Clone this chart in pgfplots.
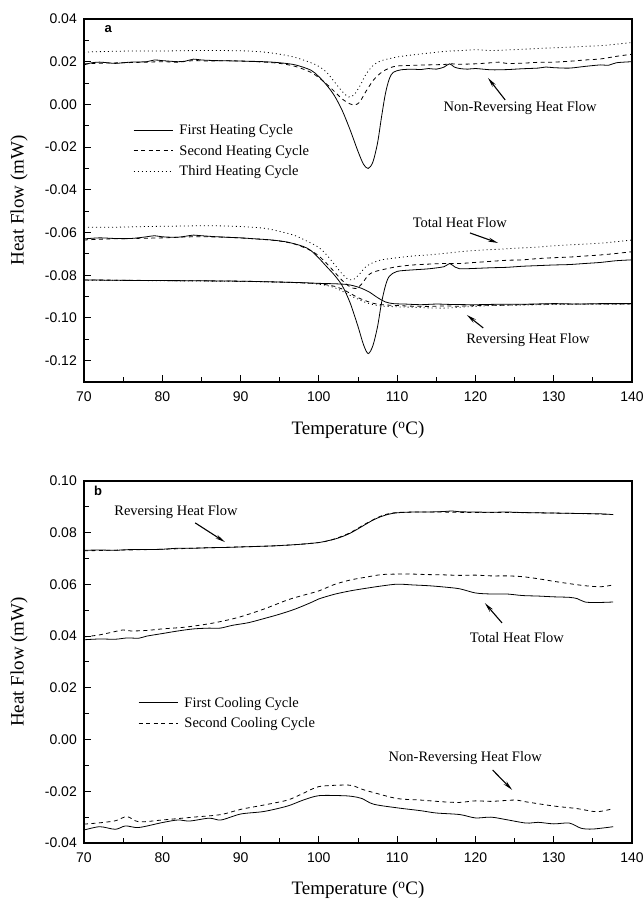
\documentclass[border=0pt]{standalone}
\usepackage{fontspec}
\setmainfont{Liberation Serif}
\newfontfamily\sansf{Liberation Sans}
\usepackage{pgfplots}
\pgfplotsset{compat=1.18}
\usetikzlibrary{arrows.meta}

\newcommand{\annot}{\fontsize{14.5}{16}\selectfont}
\newcommand{\labfont}{\fontsize{19}{21}\selectfont}

\pgfplotsset{
  dsc/.style={
    scale only axis, width=548pt,
    xmin=70, xmax=140,
    xtick={70,80,90,100,110,120,130,140},
    minor x tick num=1, minor y tick num=1,
    tick align=inside, xtick pos=bottom, ytick pos=left,
    major tick length=7pt, minor tick length=4.5pt,
    every tick/.style={black, line width=1pt},
    axis line style={line width=1.1pt},
    /pgf/number format/assume math mode=true,
    ticklabel style={font=\sansf\fontsize{14}{14}\selectfont, inner sep=0pt},
    xticklabel style={anchor=north, yshift=-10pt},
    yticklabel style={anchor=east, xshift=-7pt, /pgf/number format/.cd, fixed, fixed zerofill, precision=2},
    scaled y ticks=false,
    xlabel={Temperature ($^{\mathrm{o}}$C)},
    ylabel={Heat Flow (mW)},
    every axis y label/.style={at={(axis description cs:-0.1186,0.5)}, rotate=90, anchor=center, font=\labfont},
    legend image code/.code={\draw[#1] (0pt,0pt) -- (39pt,0pt); \path (44pt,0pt);},
    legend cell align=left,
    legend style={draw=none, fill=none, font=\annot, row sep=6pt, inner sep=0pt, nodes={inner sep=1.5pt, anchor=west}},
    every axis plot/.append style={line width=0.8pt, black, smooth},
  },
  s1/.style={solid},
  s2/.style={dash pattern=on 4pt off 3.5pt},
  s3/.style={dash pattern=on 1pt off 3pt},
}
\tikzset{arr/.style={-{Stealth[length=10pt,width=4pt]}, line width=1.1pt}}

\begin{document}
\begin{tikzpicture}
\path[use as bounding box] (0pt,0pt) rectangle (644pt,901pt);

% ---------------- Panel a ----------------
\begin{axis}[dsc, at={(84pt,519pt)}, anchor=south west, height=363pt,
  ymin=-0.13, ymax=0.04,
  ytick={-0.12,-0.10,-0.08,-0.06,-0.04,-0.02,0.00,0.02,0.04},
  every axis x label/.style={at={(axis description cs:0.5,-0.1322)}, anchor=center, font=\labfont},
  legend style={at={(0.0894,0.714)}, anchor=north west}]
% Non-reversing
\addplot[s1] coordinates {(70,0.0185)(71,0.0195)(72,0.0198)(73,0.0195)(74,0.0192)(75,0.0195)(76,0.0198)(78,0.0200)(79,0.0208)(80,0.0205)(82,0.0200)(83,0.0203)(84,0.0212)(85,0.0208)(87,0.0205)(90,0.0203)(93,0.0200)(95,0.0195)(97,0.0185)(99,0.0160)(100,0.0130)(101,0.0090)(102,0.0040)(103,-0.0030)(104,-0.0120)(105,-0.0220)(105.7,-0.0280)(106.3,-0.0300)(106.9,-0.0270)(107.5,-0.0180)(108,-0.0060)(108.5,0.0050)(109,0.0120)(109.5,0.0150)(110.5,0.0162)(112,0.0165)(113,0.0163)(114,0.0168)(115,0.0165)(116,0.0175)(116.7,0.0190)(117.3,0.0175)(118,0.0168)(119,0.0165)(120,0.0168)(122,0.0162)(124,0.0163)(126,0.0167)(128,0.0170)(129,0.0175)(130,0.0172)(132,0.0170)(134,0.0178)(136,0.0185)(137,0.0183)(138,0.0195)(140,0.0200)};
\addlegendentry{First Heating Cycle}
\addplot[s2] coordinates {(70,0.0190)(72,0.0193)(75,0.0195)(78,0.0198)(80,0.0200)(82,0.0198)(84,0.0205)(86,0.0203)(88,0.0205)(90,0.0203)(93,0.0198)(95,0.0192)(97,0.0178)(99,0.0150)(100,0.0125)(101,0.0095)(102,0.0060)(103,0.0025)(104,0.0002)(104.6,-0.0002)(105.2,0.0010)(106,0.0060)(107,0.0115)(108,0.0150)(109,0.0170)(110,0.0180)(112,0.0183)(114,0.0185)(116,0.0187)(117,0.0190)(118,0.0188)(120,0.0190)(122,0.0195)(123,0.0198)(124,0.0192)(126,0.0193)(128,0.0197)(130,0.0198)(132,0.0202)(134,0.0208)(136,0.0213)(138,0.0225)(140,0.0235)};
\addlegendentry{Second Heating Cycle}
\addplot[s3] coordinates {(70,0.0245)(73,0.0248)(76,0.0250)(80,0.0250)(84,0.0252)(88,0.0252)(91,0.0250)(93,0.0245)(95,0.0235)(97,0.0220)(99,0.0195)(100,0.0178)(101,0.0150)(102,0.0105)(103,0.0060)(103.8,0.0035)(104.5,0.0045)(105.3,0.0090)(106,0.0140)(107,0.0185)(108,0.0205)(110,0.0222)(112,0.0232)(114,0.0240)(116,0.0248)(118,0.0252)(120,0.0256)(122,0.0252)(124,0.0255)(126,0.0258)(128,0.0262)(130,0.0265)(132,0.0268)(134,0.0272)(136,0.0275)(138,0.0282)(140,0.0290)};
\addlegendentry{Third Heating Cycle}
% Total
\addplot[s1, forget plot] coordinates {(70,-0.0630)(72,-0.0625)(74,-0.0628)(76,-0.0628)(78,-0.0620)(79,-0.0615)(80,-0.0620)(82,-0.0622)(84,-0.0612)(85,-0.0615)(87,-0.0620)(90,-0.0625)(92,-0.0630)(94,-0.0635)(96,-0.0645)(98,-0.0665)(99,-0.0685)(100,-0.0720)(101,-0.0760)(102,-0.0800)(103,-0.0850)(104,-0.0930)(105,-0.1040)(105.7,-0.1125)(106.3,-0.1167)(106.9,-0.1130)(107.5,-0.1040)(108,-0.0930)(108.5,-0.0850)(109,-0.0805)(110,-0.0782)(112,-0.0775)(114,-0.0770)(116,-0.0760)(116.7,-0.0745)(117.4,-0.0762)(118,-0.0770)(120,-0.0768)(122,-0.0765)(124,-0.0763)(126,-0.0758)(128,-0.0755)(130,-0.0752)(132,-0.0750)(134,-0.0745)(136,-0.0740)(138,-0.0732)(140,-0.0728)};
\addplot[s2, forget plot] coordinates {(70,-0.0635)(73,-0.0630)(76,-0.0628)(80,-0.0625)(84,-0.0620)(88,-0.0622)(92,-0.0630)(95,-0.0640)(97,-0.0655)(99,-0.0685)(100,-0.0710)(101,-0.0745)(102,-0.0785)(103,-0.0825)(104,-0.0855)(104.8,-0.0862)(105.5,-0.0840)(106.3,-0.0800)(107,-0.0785)(108,-0.0775)(110,-0.0760)(112,-0.0752)(114,-0.0748)(116,-0.0745)(118,-0.0745)(120,-0.0740)(122,-0.0735)(124,-0.0730)(126,-0.0728)(128,-0.0722)(130,-0.0718)(132,-0.0715)(134,-0.0710)(136,-0.0705)(138,-0.0698)(140,-0.0690)};
\addplot[s3, forget plot] coordinates {(70,-0.0575)(74,-0.0575)(78,-0.0572)(82,-0.0570)(86,-0.0568)(90,-0.0572)(93,-0.0580)(95,-0.0595)(97,-0.0615)(99,-0.0650)(100,-0.0670)(101,-0.0705)(102,-0.0750)(103,-0.0795)(103.8,-0.0820)(104.5,-0.0818)(105.3,-0.0790)(106,-0.0760)(107,-0.0740)(108,-0.0728)(110,-0.0718)(112,-0.0710)(114,-0.0705)(116,-0.0698)(118,-0.0690)(120,-0.0684)(122,-0.0680)(124,-0.0676)(126,-0.0672)(128,-0.0668)(130,-0.0662)(132,-0.0658)(134,-0.0654)(136,-0.0650)(138,-0.0643)(140,-0.0635)};
% Reversing
\addplot[s1, forget plot] coordinates {(70,-0.0822)(75,-0.0824)(80,-0.0825)(85,-0.0826)(90,-0.0828)(95,-0.0832)(98,-0.0835)(100,-0.0838)(102,-0.0840)(103.5,-0.0843)(104.5,-0.0850)(105.5,-0.0862)(106.5,-0.0880)(107.5,-0.0905)(108.5,-0.0925)(109.5,-0.0933)(111,-0.0935)(113,-0.0938)(115,-0.0935)(117,-0.0937)(120,-0.0938)(123,-0.0936)(126,-0.0936)(130,-0.0933)(133,-0.0935)(136,-0.0933)(140,-0.0933)};
\addplot[s2, forget plot] coordinates {(70,-0.0822)(80,-0.0825)(90,-0.0828)(95,-0.0832)(98,-0.0836)(100,-0.0840)(101,-0.0845)(102,-0.0852)(103,-0.0865)(104,-0.0885)(105,-0.0905)(106,-0.0920)(107,-0.0932)(108,-0.0938)(110,-0.0942)(112,-0.0945)(114,-0.0946)(116,-0.0944)(118,-0.0945)(120,-0.0942)(122,-0.0940)(124,-0.0940)(126,-0.0938)(128,-0.0936)(130,-0.0935)(134,-0.0935)(140,-0.0934)};
\addplot[s3, forget plot] coordinates {(70,-0.0823)(90,-0.0829)(98,-0.0836)(100,-0.0842)(101,-0.0848)(102,-0.0858)(103,-0.0875)(104,-0.0895)(105,-0.0912)(106,-0.0928)(107,-0.0938)(108,-0.0944)(110,-0.0948)(112,-0.0950)(114,-0.0953)(116,-0.0954)(118,-0.0950)(120,-0.0946)(122,-0.0942)(126,-0.0940)(130,-0.0937)(140,-0.0935)};
% annotations
\node[font=\sansf\bfseries\fontsize{13}{13}\selectfont] at (axis cs:73.1,0.0353) {a};
\node[font=\annot] at (axis cs:125.7,-0.0017) {Non-Reversing Heat Flow};
\draw[arr] (axis cs:123.8,0.0021) -- (axis cs:121.6,0.0124);
\node[font=\annot] at (axis cs:118.0,-0.0551) {Total Heat Flow};
\draw[arr] (axis cs:119.3,-0.0602) -- (axis cs:122.9,-0.0649);
\node[font=\annot] at (axis cs:126.7,-0.1103) {Reversing Heat Flow};
\draw[arr] (axis cs:121.0,-0.1047) -- (axis cs:118.9,-0.0986);
\end{axis}

% ---------------- Panel b ----------------
\begin{axis}[dsc, at={(84pt,58pt)}, anchor=south west, height=362pt,
  ymin=-0.04, ymax=0.10,
  ytick={-0.04,-0.02,0.00,0.02,0.04,0.06,0.08,0.10},
  every axis x label/.style={at={(axis description cs:0.5,-0.1298)}, anchor=center, font=\labfont},
  legend style={at={(0.0985,0.408)}, anchor=north west}]
% Non-reversing
\addplot[s1] coordinates {(70,-0.0350)(72,-0.0337)(74,-0.0347)(75.3,-0.0334)(77,-0.0340)(80,-0.0321)(82,-0.0311)(83.5,-0.0315)(86,-0.0304)(87.5,-0.0311)(90,-0.0288)(93,-0.0278)(96,-0.0257)(98,-0.0234)(100,-0.0217)(103,-0.0217)(104.3,-0.0220)(105.5,-0.0228)(107,-0.0250)(110,-0.0264)(113,-0.0275)(115,-0.0284)(118,-0.0290)(120,-0.0303)(122,-0.0300)(124,-0.0310)(126.5,-0.0323)(128,-0.0320)(130,-0.0326)(132,-0.0323)(133.5,-0.0343)(135,-0.0346)(137.6,-0.0337)};
\addlegendentry{First Cooling Cycle}
\addplot[s2] coordinates {(70,-0.0327)(72,-0.0322)(74,-0.0314)(75.5,-0.0298)(77,-0.0318)(80,-0.0311)(84,-0.0300)(87.5,-0.0290)(90,-0.0270)(93,-0.0253)(96,-0.0234)(98,-0.0208)(100,-0.0182)(103,-0.0176)(104.3,-0.0178)(105.5,-0.0192)(107,-0.0205)(110,-0.0228)(113,-0.0234)(116,-0.0241)(118,-0.0243)(120,-0.0237)(122,-0.0239)(125,-0.0234)(126.5,-0.0241)(130,-0.0257)(133,-0.0267)(135.5,-0.0279)(137.6,-0.0267)};
\addlegendentry{Second Cooling Cycle}
% Total
\addplot[s1, forget plot] coordinates {(70,0.0386)(72,0.0389)(74,0.0388)(75.5,0.0393)(77,0.0392)(78,0.0400)(80,0.0410)(82,0.0420)(84,0.0428)(86,0.0431)(87.4,0.0431)(89,0.0442)(91,0.0452)(93,0.0468)(95,0.0485)(97,0.0505)(99,0.0530)(100,0.0544)(102,0.0562)(104,0.0575)(106,0.0585)(108,0.0594)(110,0.0601)(112,0.0598)(114,0.0595)(116,0.0590)(118,0.0583)(120,0.0567)(122,0.0563)(124,0.0563)(126,0.0557)(128,0.0555)(130,0.0552)(132,0.0550)(133,0.0545)(134,0.0532)(135.5,0.0530)(137.6,0.0532)};
\addplot[s2, forget plot] coordinates {(70,0.0397)(72,0.0405)(74,0.0418)(75,0.0424)(76,0.0420)(78,0.0422)(80,0.0428)(83,0.0435)(86,0.0448)(88,0.0460)(90,0.0475)(93,0.0505)(96,0.0540)(98,0.0558)(100,0.0575)(102,0.0600)(104,0.0617)(106,0.0628)(108,0.0638)(110,0.0640)(112,0.0640)(114,0.0638)(116,0.0637)(118,0.0635)(120,0.0636)(122,0.0633)(124,0.0633)(126,0.0630)(128,0.0622)(130,0.0612)(132,0.0603)(134,0.0595)(136,0.0591)(137.6,0.0598)};
% Reversing
\addplot[s1, forget plot] coordinates {(70,0.0732)(72,0.0733)(74,0.0732)(76,0.0735)(78,0.0735)(80,0.0736)(82,0.0740)(84,0.0740)(86,0.0742)(88,0.0743)(90,0.0745)(92,0.0747)(94,0.0749)(96,0.0752)(98,0.0756)(100,0.0762)(101,0.0768)(102,0.0775)(103,0.0785)(104,0.0798)(105,0.0815)(106,0.0833)(107,0.0850)(108,0.0863)(109,0.0872)(110,0.0877)(112,0.0880)(114,0.0880)(116,0.0882)(117,0.0884)(118,0.0881)(120,0.0880)(122,0.0879)(124,0.0880)(126,0.0878)(128,0.0877)(130,0.0876)(132,0.0875)(134,0.0874)(136,0.0873)(137.6,0.0870)};
\addplot[s2, forget plot] coordinates {(70,0.0730)(75,0.0733)(80,0.0736)(85,0.0741)(90,0.0745)(95,0.0750)(100,0.0762)(102,0.0776)(104,0.0800)(106,0.0835)(108,0.0865)(110,0.0878)(115,0.0880)(120,0.0878)(125,0.0878)(130,0.0876)(135,0.0873)(137.6,0.0870)};
% annotations
\node[font=\sansf\bfseries\fontsize{13}{13}\selectfont] at (axis cs:71.8,0.0961) {b};
\node[font=\annot] at (axis cs:81.75,0.0880) {Reversing Heat Flow};
\draw[arr] (axis cs:84.2,0.0838) -- (axis cs:88.0,0.0764);
\node[font=\annot] at (axis cs:125.3,0.0393) {Total Heat Flow};
\draw[arr] (axis cs:123.4,0.0451) -- (axis cs:121.2,0.0528);
\node[font=\annot] at (axis cs:118.7,-0.0071) {Non-Reversing Heat Flow};
\draw[arr] (axis cs:122.2,-0.0118) -- (axis cs:124.7,-0.0195);
\end{axis}
\end{tikzpicture}
\end{document}
